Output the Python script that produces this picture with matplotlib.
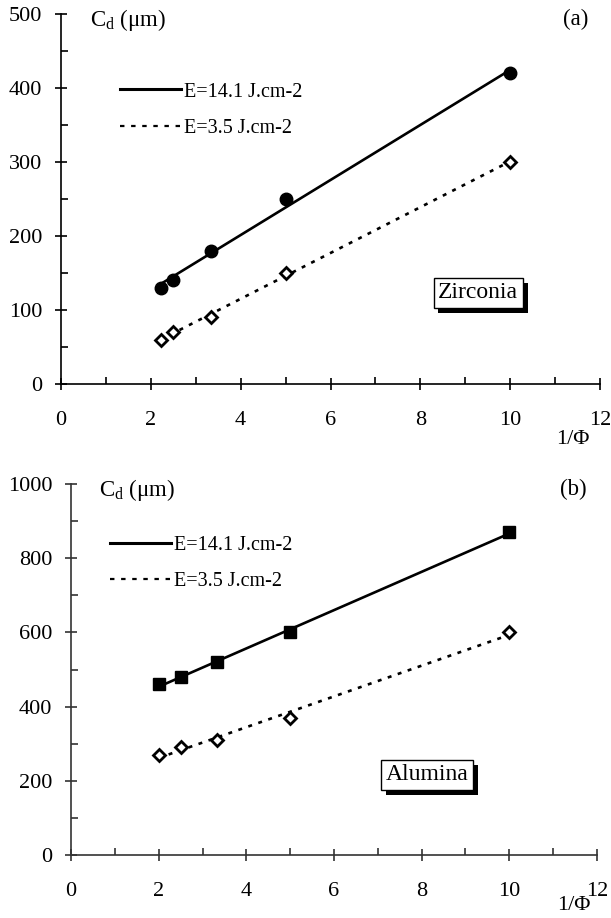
import numpy as np
import matplotlib
matplotlib.use("Agg")
import matplotlib.pyplot as plt
from matplotlib.lines import Line2D
from matplotlib.ticker import MultipleLocator
import matplotlib.patheffects as pe

plt.rcParams['font.family'] = ['Liberation Serif', 'DejaVu Serif']
plt.rcParams['mathtext.fontset'] = 'custom'
plt.rcParams['mathtext.rm'] = 'Liberation Serif'
plt.rcParams['mathtext.it'] = 'Liberation Serif:italic'

# ---- data ----
x_zirconia = [2.22, 2.5, 3.33, 5.0, 10.0]
zr_high = [130, 140, 180, 250, 420]
zr_low = [60, 70, 90, 150, 300]

x_alumina = [2.0, 2.5, 3.33, 5.0, 10.0]
al_high = [460, 480, 520, 600, 870]
al_low = [270, 290, 310, 370, 600]

series_labels = ["E=14.1 J.cm-2", "E=3.5 J.cm-2"]
x_ticks = [0, 2, 4, 6, 8, 10, 12]
zr_yticks = [0, 100, 200, 300, 400, 500]
al_yticks = [0, 200, 400, 600, 800, 1000]

W, H = 611, 918
fig = plt.figure(figsize=(W / 100, H / 100), dpi=100)

def px_axes(l, r, b, t):
    return fig.add_axes([l / W, 1 - b / H, (r - l) / W, (b - t) / H])

ax1 = px_axes(61, 600, 384, 14)
ax2 = px_axes(71, 597, 855, 484)

dash = (0, (1.5, 2.5))

def fit_line(ax, x, y, ls):
    c = np.polyfit(x, y, 1)
    xs = np.array([min(x), max(x)])
    ax.plot(xs, np.polyval(c, xs), color='k', lw=1.9, ls=ls, zorder=2)

def style(ax, ymax, ystep, yticks, label, box_text, box_xy, spine_col, phi_xy, leg_xy):
    ax.set_xlim(0, 12)
    ax.set_ylim(0, ymax)
    ax.set_xticks(x_ticks)
    ax.set_yticks(yticks)
    ax.xaxis.set_minor_locator(MultipleLocator(1))
    ax.yaxis.set_minor_locator(MultipleLocator(ystep / 2))
    for s in ['top', 'right']:
        ax.spines[s].set_visible(False)
    for s in ['left', 'bottom']:
        ax.spines[s].set_linewidth(1.2)
        ax.spines[s].set_color(spine_col)
    ax.tick_params(which='major', direction='inout', length=9, width=1.2,
                   labelsize=16, color=spine_col)
    ax.tick_params(axis='x', which='major', pad=15)
    ax.tick_params(axis='y', which='major', pad=9)
    ax.tick_params(which='minor', direction='in', length=5, width=1.2, color=spine_col)
    ax.set_facecolor('none')
    ax.text(0.053, 0.985, r'C$_{\mathrm{d}}$ (μm)', transform=ax.transAxes,
            fontsize=16.5, ha='left', va='center')
    ax.text(0.955, 0.985, label, transform=ax.transAxes, fontsize=16.5,
            ha='center', va='center')
    ax.text(phi_xy[0], phi_xy[1], '1/Φ', transform=ax.transAxes, fontsize=16,
            ha='center', va='center')
    t = ax.text(box_xy[0], box_xy[1], box_text, fontsize=17, ha='center', va='center',
                bbox=dict(boxstyle='square,pad=0.2', fc='white', ec='black', lw=1.0))
    t.get_bbox_patch().set_path_effects([
        pe.SimplePatchShadow(offset=(3.5, -3.5), shadow_rgbFace='black', alpha=1.0),
        pe.Normal()])
    handles = [Line2D([], [], color='k', lw=2.2),
               Line2D([], [], color='k', lw=1.6, ls=(0, (2, 3)))]
    ax.legend(handles, series_labels, loc='upper left',
              bbox_to_anchor=leg_xy, frameon=False, fontsize=14.5,
              handlelength=3.0, handletextpad=0.15, labelspacing=0.85,
              borderpad=0, borderaxespad=0)

# Zirconia panel
fit_line(ax1, x_zirconia, zr_high, '-')
fit_line(ax1, x_zirconia, zr_low, dash)
ax1.plot(x_zirconia, zr_high, ls='none', marker='o', ms=9, mfc='k', mec='k', zorder=3)
ax1.plot(x_zirconia, zr_low, ls='none', marker='D', ms=6.3, mfc='white', mec='k', mew=2.0, zorder=3)
style(ax1, 500, 100, zr_yticks, '(a)', 'Zirconia', (9.29, 123), 'black',
      (0.95, -0.15), (0.11, 0.815))

# Alumina panel
fit_line(ax2, x_alumina, al_high, '-')
fit_line(ax2, x_alumina, al_low, dash)
ax2.plot(x_alumina, al_high, ls='none', marker='s', ms=9, mfc='k', mec='k', zorder=3)
ax2.plot(x_alumina, al_low, ls='none', marker='D', ms=6.3, mfc='white', mec='k', mew=2.0, zorder=3)
style(ax2, 1000, 200, al_yticks, '(b)', 'Alumina', (8.13, 216), '#333333',
      (0.955, -0.135), (0.075, 0.86))

fig.savefig('out.png', dpi=100)
